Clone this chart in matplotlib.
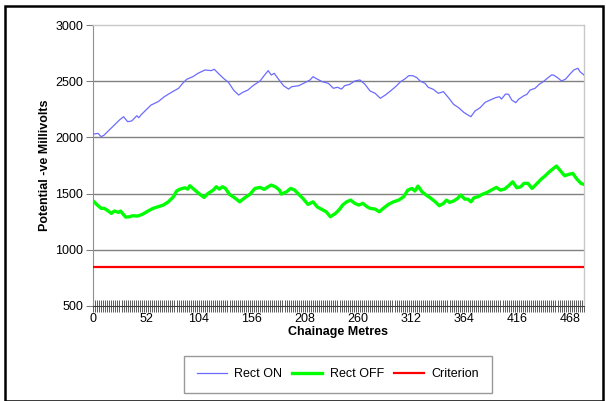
import numpy as np
import matplotlib
matplotlib.use('Agg')
from matplotlib import pyplot as plt
from matplotlib.patches import Rectangle

plt.rcParams['font.family'] = ['Liberation Sans', 'DejaVu Sans']

# readings taken off the chart (chainage in metres, potential in -mV)
on_m = [1, 5, 8, 11, 16, 21, 26, 30, 34, 38, 43, 45, 47, 52, 57, 64, 70, 77, 84, 88,
        92, 98, 103, 110, 116, 119, 123, 128, 133, 138, 143, 147, 152, 157, 164, 169, 172, 175, 178, 182,
        187, 192, 195, 202, 208, 213, 216, 220, 225, 231, 236, 240, 244, 247, 252, 257, 262, 267, 272, 277,
        282, 287, 292, 297, 302, 306, 310, 314, 318, 321, 326, 329, 334, 339, 344, 349, 354, 359, 364, 367,
        371, 375, 380, 385, 390, 395, 399, 401, 405, 408, 411, 415, 418, 423, 426, 429, 434, 438, 442, 446,
        450, 452, 456, 460, 464, 468, 472, 476, 478, 482]
on_mv = [2030, 2036, 2006, 2021, 2066, 2110, 2155, 2184, 2140, 2146, 2193, 2175, 2199, 2244, 2288, 2318, 2362, 2401, 2437, 2481,
         2517, 2540, 2570, 2600, 2594, 2606, 2570, 2526, 2490, 2421, 2377, 2401, 2421, 2460, 2502, 2561, 2594, 2555, 2570, 2519,
         2460, 2430, 2451, 2460, 2487, 2511, 2540, 2519, 2496, 2481, 2437, 2446, 2430, 2460, 2472, 2502, 2511, 2472, 2413, 2392,
         2348, 2377, 2413, 2451, 2496, 2519, 2549, 2549, 2531, 2502, 2481, 2446, 2428, 2392, 2407, 2353, 2294, 2264, 2223, 2205,
         2184, 2235, 2264, 2312, 2333, 2353, 2362, 2341, 2386, 2383, 2333, 2309, 2341, 2371, 2383, 2421, 2437, 2472, 2496, 2526,
         2555, 2555, 2531, 2502, 2519, 2561, 2600, 2615, 2585, 2555]

off_m = [1, 5, 8, 11, 15, 18, 21, 25, 27, 29, 32, 36, 39, 44, 49, 54, 59, 64, 69, 74,
         79, 82, 85, 90, 93, 95, 100, 105, 109, 113, 118, 121, 124, 127, 130, 134, 139, 144, 149, 154,
         159, 164, 168, 172, 175, 179, 183, 185, 190, 194, 198, 202, 206, 211, 216, 220, 224, 229, 233, 238,
         242, 245, 249, 253, 257, 261, 265, 269, 272, 277, 281, 285, 290, 295, 300, 305, 309, 313, 316, 319,
         323, 327, 331, 336, 340, 344, 347, 350, 354, 358, 361, 365, 368, 371, 374, 378, 382, 387, 391, 396,
         400, 404, 408, 412, 416, 420, 423, 427, 431, 435, 440, 444, 448, 452, 455, 459, 463, 467, 471, 475,
         479, 482]
off_mv = [1427, 1392, 1369, 1369, 1345, 1324, 1345, 1333, 1345, 1324, 1291, 1294, 1303, 1300, 1318, 1345, 1369, 1383, 1398, 1427,
          1472, 1523, 1538, 1552, 1540, 1570, 1531, 1493, 1466, 1502, 1531, 1561, 1540, 1561, 1546, 1493, 1463, 1427, 1463, 1493,
          1546, 1555, 1538, 1561, 1576, 1561, 1531, 1496, 1516, 1546, 1531, 1493, 1458, 1404, 1427, 1383, 1362, 1338, 1294, 1324,
          1360, 1398, 1427, 1442, 1413, 1398, 1413, 1383, 1369, 1362, 1338, 1369, 1404, 1427, 1442, 1472, 1531, 1546, 1523, 1567,
          1516, 1487, 1463, 1427, 1392, 1413, 1442, 1422, 1434, 1458, 1487, 1451, 1451, 1427, 1463, 1472, 1493, 1511, 1531, 1555,
          1531, 1540, 1570, 1605, 1552, 1561, 1591, 1591, 1546, 1582, 1629, 1659, 1694, 1724, 1745, 1701, 1659, 1671, 1680, 1629,
          1591, 1582]

criterion = 850
x_labels = [0, 52, 104, 156, 208, 260, 312, 364, 416, 468]
y_ticks = [500, 1000, 1500, 2000, 2500, 3000]

fig = plt.figure(figsize=(6.06, 4.01), dpi=100)
ax = fig.add_axes([93/606, 1 - 306/401, 491/606, 281/401])

for y in y_ticks[1:-1]:
    ax.axhline(y, color='#808080', lw=1.0, zorder=1)

ax.plot(on_m, on_mv, color='#6b6bff', lw=0.9, label='Rect ON', zorder=3)
ax.plot(off_m, off_mv, color='#00ff00', lw=2.4, label='Rect OFF', zorder=3)
ax.axhline(criterion, color='#ff0000', lw=1.6, label='Criterion', zorder=3)

ax.set_xlim(0, 482)
ax.set_ylim(500, 3000)
ax.set_yticks(y_ticks)
ax.set_xticks(x_labels)
ax.set_xticks(np.arange(0, 483, 2), minor=True)
ax.tick_params(axis='x', which='both', direction='inout', length=8, width=0.6,
               color='#404040', labelsize=9, pad=1)
ax.tick_params(axis='y', direction='out', length=5, width=0.8, color='#808080',
               labelsize=9, pad=2)

for s in ['top', 'right']:
    ax.spines[s].set_color('#c8c8c8')
    ax.spines[s].set_linewidth(1.0)
ax.spines['left'].set_color('#909090')
ax.spines['bottom'].set_color('#404040')

ax.set_xlabel('Chainage Metres', fontsize=9, fontweight='bold', labelpad=1)
ax.set_ylabel('Potential -ve Millivolts', fontsize=9, fontweight='bold', labelpad=3)

leg = fig.legend(loc='center', bbox_to_anchor=(338/606, 1 - 374/401), ncol=3,
                 fontsize=9, frameon=True, fancybox=False, edgecolor='#808080',
                 handlelength=2.4, columnspacing=0.8, handletextpad=0.6,
                 borderpad=1.0, borderaxespad=0)
leg.get_frame().set_linewidth(1.0)

fig.patches.append(Rectangle((5/606, 0.5/401), 598/606, 395/401, transform=fig.transFigure,
                             fill=False, edgecolor='black', lw=1.8))

fig.savefig('out.png', dpi=100)
